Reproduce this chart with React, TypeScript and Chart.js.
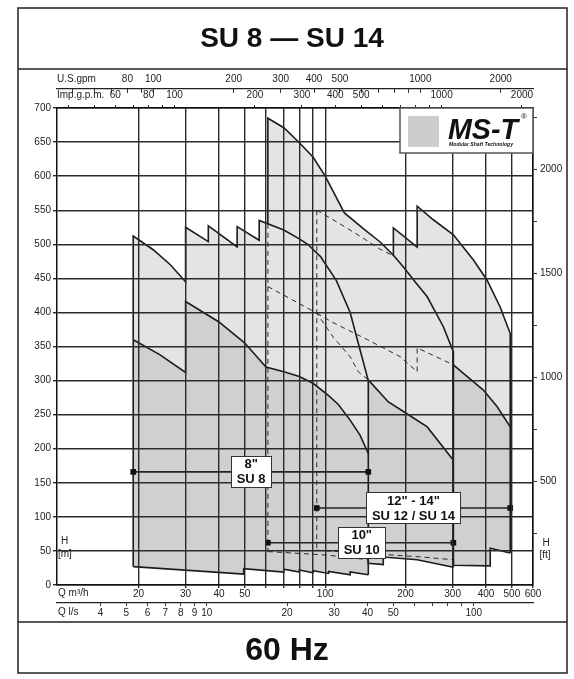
import React, { useEffect, useRef } from 'react';
import { Chart, registerables } from 'chart.js';

Chart.register(...registerables);

type P = [number, number];

const FONT = '"Liberation Sans", Arial, Helvetica, sans-serif';
const TITLE = 'SU 8 — SU 14';
const FOOTER = '60 Hz';

// ---- axes (Q in m³/h, H in m) ----
const Q_MIN = 9.9;
const Q_MAX = 600;
const H_MIN = 0;
const H_MAX = 700;
const H_STEP = 50;

const M3H_TO_USGPM = 4.4029;
const M3H_TO_IMPGPM = 3.6662;
const M3H_TO_LS = 1 / 3.6;
const M_TO_FT = 1 / 0.3048;

const qTicks = [20, 30, 40, 50, 60, 70, 80, 90, 100, 200, 300, 400, 500, 600];
const qLabels = [20, 30, 40, 50, 100, 200, 300, 400, 500, 600];
const lsTicks = [4, 5, 6, 7, 8, 9, 10, 20, 30, 40, 50, 60, 70, 80, 90, 100];
const lsLabels = [4, 5, 6, 7, 8, 9, 10, 20, 30, 40, 50, 100];
const usTicks = [50, 60, 70, 80, 90, 100, 200, 300, 400, 500, 600, 700, 800, 900, 1000, 2000];
const usLabels = [80, 100, 200, 300, 400, 500, 1000, 2000];
const impTicks = [40, 50, 60, 70, 80, 90, 100, 200, 300, 400, 500, 600, 700, 800, 900, 1000, 2000];
const impLabels = [60, 80, 100, 200, 300, 400, 500, 1000, 2000];
const ftTicks = [250, 500, 750, 1000, 1250, 1500, 1750, 2000, 2250];
const ftLabels = [500, 1000, 1500, 2000];

// ---- SU 8 envelope ----
const su8Top: P[] = [
  [19.1, 512], [22.7, 492], [26.3, 470], [30, 445], [30, 525], [36.5, 504], [36.5, 527],
  [46.8, 496], [46.8, 526], [56.6, 506], [56.6, 535], [70, 521], [80, 508], [86, 500],
  [96, 482], [110, 447], [124, 400], [134, 350], [145, 300],
];
const su8DarkTop: P[] = [
  [19.1, 360], [24, 338], [30, 312], [30, 416], [40, 386], [50, 355], [60, 320], [70, 313],
  [80, 306], [90, 296], [103, 278], [112, 265], [124, 242], [135, 220], [145, 193],
];
const su8Bottom: P[] = [
  [19.1, 27], [49.5, 16], [49.5, 24], [70, 19], [70, 23], [80, 19], [80, 22], [90, 18],
  [90, 21], [103, 17], [103, 20], [124, 15], [124, 19], [145, 15],
];

// ---- SU 10 envelope ----
const su10Top: P[] = [
  [61, 685], [70, 671], [80, 649], [90, 628], [100, 600], [118, 546], [140, 522], [161, 503],
  [180, 484], [196, 467], [217, 445], [241, 423], [277, 379], [302, 342],
];
const su10LeftJoinH = 530;
const su10DarkTop: P[] = [
  [61, 438], [93, 399], [107, 364], [124, 335], [133, 313], [145, 301], [172, 269],
  [203, 251], [241, 232], [302, 183],
];
const su10Bottom: P[] = [
  [61, 49], [101, 44], [145, 37], [145, 32], [165, 30], [165, 41], [221, 37], [302, 26],
];

// ---- SU 12 / SU 14 envelope ----
const su12Top: P[] = [
  [93, 550], [105, 538], [118, 526], [140, 508], [160, 493], [180, 483], [180, 524],
  [221, 496], [221, 556], [254, 536], [302, 514], [359, 477], [403, 448], [452, 408], [493, 369],
];
const su12DarkTop: P[] = [
  [93, 399], [107, 385], [144, 360], [191, 335], [221, 313], [221, 348], [302, 323],
  [391, 286], [440, 262], [493, 232],
];
const su12Bottom: P[] = [
  [93, 51], [150, 46], [232, 41], [302, 37], [302, 29], [415, 28], [415, 54], [493, 47],
];

// ---- size ranges (bars) ----
const su8Range: P[] = [[19.1, 166], [145, 166]];
const su10Range: P[] = [[61, 62], [302, 62]];
const su12Range: P[] = [[93, 113], [493, 113]];

const su8Label = { lines: ['8"', 'SU 8'], q: 52.8 };
const su10Label = { lines: ['10"', 'SU 10'], q: 137 };
const su12Label = { lines: ['12" - 14"', 'SU 12 / SU 14'], q: 214 };

// ---- styles ----
const LIGHT = '#e4e4e6';
const DARK = '#d0d0d2';
const INK = '#1c1c1c';
const GRID = '#2a2a2a';
const TXT = '#222';

const toXY = (pts: P[]) => pts.map(([x, y]) => ({ x, y }));
const polygon = (top: P[], bottom: P[]) => toXY([...top, ...bottom.slice().reverse()]);
const upTo = (pts: P[], q: number) => pts.filter((p) => p[0] <= q);
const fromQ = (pts: P[], q: number) => pts.filter((p) => p[0] >= q);
const first = (pts: P[]) => pts[0];
const last = (pts: P[]) => pts[pts.length - 1];

const fillDs = (data: any[], color: string, order: number) => ({
  data, showLine: true, fill: 'shape', backgroundColor: color, borderWidth: 0,
  pointRadius: 0, order, tension: 0,
});
const lineDs = (pts: P[], dashed: boolean) => ({
  data: toXY(pts), showLine: true, fill: false,
  borderColor: dashed ? '#2a2a2a' : INK, borderWidth: dashed ? 1 : 1.6,
  borderDash: dashed ? [5, 4] : [], pointRadius: 0, order: dashed ? 50 : 40, tension: 0,
});
const barDs = (pts: P[]) => ({
  data: toXY(pts), showLine: true, fill: false, borderColor: '#222', borderWidth: 1.6,
  pointRadius: 4, pointStyle: 'rect', pointBackgroundColor: '#111', pointBorderWidth: 0, order: 30,
});

const fixedTicks = (vals: number[]) => (scale: any) => {
  scale.ticks = vals.map((v) => ({ value: v }));
};
const labelIf = (labels: number[]) => (v: any) => (labels.includes(Number(v)) ? String(v) : '');
const tickFont = { family: FONT, size: 10 };

const decor = {
  id: 'decor',
  beforeDraw(chart: any) {
    const { ctx } = chart;
    ctx.save();
    ctx.fillStyle = '#fff';
    ctx.fillRect(0, 0, chart.width, chart.height);
    ctx.restore();
  },
  afterDraw(chart: any) {
    const { ctx, chartArea: a, scales } = chart;
    const sx = scales.x;
    const sy = scales.y;
    ctx.save();

    // frame
    ctx.strokeStyle = '#222';
    ctx.lineWidth = 1.5;
    ctx.strokeRect(18, 8, 549, 665);
    ctx.beginPath();
    ctx.moveTo(18, 69); ctx.lineTo(567, 69);
    ctx.moveTo(18, 622); ctx.lineTo(567, 622);
    ctx.stroke();

    // title & footer
    ctx.fillStyle = '#111';
    ctx.textBaseline = 'middle';
    ctx.textAlign = 'center';
    ctx.font = `bold 28px ${FONT}`;
    ctx.fillText(TITLE, 292, 39);
    ctx.font = `bold 32px ${FONT}`;
    ctx.fillText(FOOTER, 287, 651);

    // axis names
    ctx.font = `10px ${FONT}`;
    ctx.fillStyle = TXT;
    ctx.textAlign = 'left';
    ctx.fillText('U.S.gpm', a.left, 79);
    ctx.fillText('Imp.g.p.m.', a.left, 95);
    ctx.fillText('Q m³/h', a.left + 1, 593);
    ctx.fillText('Q l/s', a.left + 1, 612);
    ctx.fillText('H', a.left + 4, 541);
    ctx.fillText('[m]', a.left + 1, 554);
    ctx.textAlign = 'center';
    ctx.fillText('H', a.right + 13, 543);
    ctx.fillText('[ft]', a.right + 12, 555);

    // logo
    const lw = 133, lh = 45;
    const lx = a.right - lw, ly = a.top;
    ctx.fillStyle = '#fff';
    ctx.fillRect(lx, ly, lw, lh);
    ctx.strokeStyle = '#555';
    ctx.lineWidth = 1.5;
    ctx.strokeRect(lx, ly, lw, lh);
    ctx.fillStyle = '#cdcdcf';
    ctx.fillRect(lx + 8, ly + 8, 31, 31);
    ctx.fillStyle = '#111';
    ctx.textAlign = 'left';
    ctx.textBaseline = 'alphabetic';
    ctx.font = `italic bold 30px ${FONT}`;
    ctx.fillText('MS-T', lx + 48, ly + 31, 70);
    ctx.font = `8px ${FONT}`;
    ctx.fillText('®', lx + 121, ly + 11);
    ctx.font = `italic bold 6px ${FONT}`;
    ctx.fillText('Modular Shaft Technology', lx + 49, ly + 38, 64);

    // range labels
    const boxes = [
      { ...su8Label, h: su8Range[0][1] },
      { ...su10Label, h: su10Range[0][1] },
      { ...su12Label, h: su12Range[0][1] },
    ];
    ctx.font = `bold 13px ${FONT}`;
    ctx.textAlign = 'center';
    ctx.textBaseline = 'middle';
    for (const b of boxes) {
      const cx = sx.getPixelForValue(b.q);
      const cy = sy.getPixelForValue(b.h);
      const w = Math.max(...b.lines.map((t) => ctx.measureText(t).width)) + 11;
      const h = 31;
      ctx.fillStyle = '#fff';
      ctx.fillRect(cx - w / 2, cy - h / 2, w, h);
      ctx.strokeStyle = '#333';
      ctx.lineWidth = 1;
      ctx.strokeRect(Math.round(cx - w / 2) + 0.5, Math.round(cy - h / 2) + 0.5, Math.round(w), h);
      ctx.fillStyle = '#111';
      ctx.fillText(b.lines[0], cx, cy - 7);
      ctx.fillText(b.lines[1], cx, cy + 8);
    }
    ctx.restore();
  },
};

export default function App() {
  const ref = useRef<HTMLCanvasElement>(null);

  useEffect(() => {
    const canvas = ref.current;
    if (!canvas) return;

    const datasets: any[] = [
      fillDs(polygon(su12Top, su12Bottom), LIGHT, 100),
      fillDs(polygon(su12DarkTop, su12Bottom), DARK, 99),
      fillDs(polygon(su10Top, su10Bottom), LIGHT, 98),
      fillDs(polygon(su10DarkTop, su10Bottom), DARK, 97),
      fillDs(polygon(su8Top, su8Bottom), LIGHT, 96),
      fillDs(polygon(su8DarkTop, su8Bottom), DARK, 95),

      // SU 8 outlines
      lineDs([first(su8Bottom), ...su8Top, last(su8Bottom)], false),
      lineDs(su8DarkTop, false),
      lineDs(su8Bottom, false),

      // SU 10 outlines
      lineDs([[first(su10Top)[0], su10LeftJoinH], ...su10Top, last(su10Bottom)], false),
      lineDs([[first(su10Top)[0], su10LeftJoinH], first(su10Bottom)], true),
      lineDs(upTo(su10DarkTop, 145), true),
      lineDs(fromQ(su10DarkTop, 145), false),
      lineDs(upTo(su10Bottom, 145), true),
      lineDs(fromQ(su10Bottom, 145), false),

      // SU 12 / 14 outlines
      lineDs(upTo(su12Top, 180).slice(0, 6), true),
      lineDs([...fromQ(su12Top, 180), last(su12Bottom)], false),
      lineDs([first(su12Top), first(su12Bottom)], true),
      lineDs(upTo(su12DarkTop, 302), true),
      lineDs(fromQ(su12DarkTop, 302), false),
      lineDs(upTo(su12Bottom, 302), true),
      lineDs(fromQ(su12Bottom, 302), false),

      barDs(su8Range),
      barDs(su10Range),
      barDs(su12Range),
    ];

    const chart = new Chart(canvas, {
      type: 'scatter',
      data: { datasets },
      plugins: [decor],
      options: {
        responsive: false,
        animation: false,
        devicePixelRatio: 1,
        events: [],
        layout: { padding: { left: 20, right: 7, top: 70, bottom: 58 } },
        plugins: { legend: { display: false }, tooltip: { enabled: false } },
        scales: {
          x: {
            type: 'logarithmic', position: 'bottom', min: Q_MIN, max: Q_MAX, bounds: 'data',
            weight: 0,
            afterBuildTicks: fixedTicks(qTicks),
            afterFit: (s: any) => { s.height = 18; },
            ticks: { autoSkip: false, maxRotation: 0, minRotation: 0, callback: labelIf(qLabels), font: tickFont, color: TXT, padding: 0 },
            grid: { color: GRID, lineWidth: 1.4, tickLength: 3, z: 1 },
            border: { display: true, color: '#111', width: 1.5, z: 2 },
          },
          xls: {
            type: 'logarithmic', position: 'bottom', min: Q_MIN * M3H_TO_LS, max: Q_MAX * M3H_TO_LS,
            bounds: 'data', weight: 1,
            afterBuildTicks: fixedTicks(lsTicks),
            afterFit: (s: any) => { s.height = 18; },
            ticks: { autoSkip: false, maxRotation: 0, minRotation: 0, callback: labelIf(lsLabels), font: tickFont, color: TXT, padding: 1 },
            grid: { drawOnChartArea: false, color: '#333', tickLength: 3 },
            border: { display: true, color: '#222', width: 1.2 },
          },
          ximp: {
            type: 'logarithmic', position: 'top', min: Q_MIN * M3H_TO_IMPGPM, max: Q_MAX * M3H_TO_IMPGPM,
            bounds: 'data', weight: 0,
            afterBuildTicks: fixedTicks(impTicks),
            afterFit: (s: any) => { s.height = 19; },
            ticks: { autoSkip: false, maxRotation: 0, minRotation: 0, callback: labelIf(impLabels), font: tickFont, color: TXT, padding: 4 },
            grid: { drawOnChartArea: false, color: '#333', tickLength: 3 },
            border: { display: true, color: '#111', width: 1.5, z: 2 },
          },
          xus: {
            type: 'logarithmic', position: 'top', min: Q_MIN * M3H_TO_USGPM, max: Q_MAX * M3H_TO_USGPM,
            bounds: 'data', weight: 1,
            afterBuildTicks: fixedTicks(usTicks),
            afterFit: (s: any) => { s.height = 19; },
            ticks: { autoSkip: false, maxRotation: 0, minRotation: 0, callback: labelIf(usLabels), font: tickFont, color: TXT, padding: 8 },
            grid: { drawOnChartArea: false, color: '#333', tickLength: -4 },
            border: { display: true, color: '#222', width: 1.2 },
          },
          y: {
            type: 'linear', position: 'left', min: H_MIN, max: H_MAX,
            afterFit: (s: any) => { s.width = 37; },
            ticks: { stepSize: H_STEP, autoSkip: false, font: tickFont, color: TXT, padding: 2 },
            grid: { color: GRID, lineWidth: 1.4, tickLength: 4, z: 1 },
            border: { display: true, color: '#111', width: 1.5, z: 2 },
          },
          yft: {
            type: 'linear', position: 'right', min: H_MIN * M_TO_FT, max: H_MAX * M_TO_FT,
            afterBuildTicks: fixedTicks(ftTicks),
            afterFit: (s: any) => { s.width = 34; },
            ticks: { autoSkip: false, callback: labelIf(ftLabels), font: tickFont, color: TXT, padding: 3 },
            grid: { drawOnChartArea: false, color: '#333', tickLength: 4 },
            border: { display: true, color: '#111', width: 1.5, z: 2 },
          },
        },
      } as any,
    });
    return () => chart.destroy();
  }, []);

  return (
    <canvas
      ref={ref}
      width={574}
      height={679}
      style={{ position: 'absolute', left: 0, top: 0, display: 'block' }}
    />
  );
}
